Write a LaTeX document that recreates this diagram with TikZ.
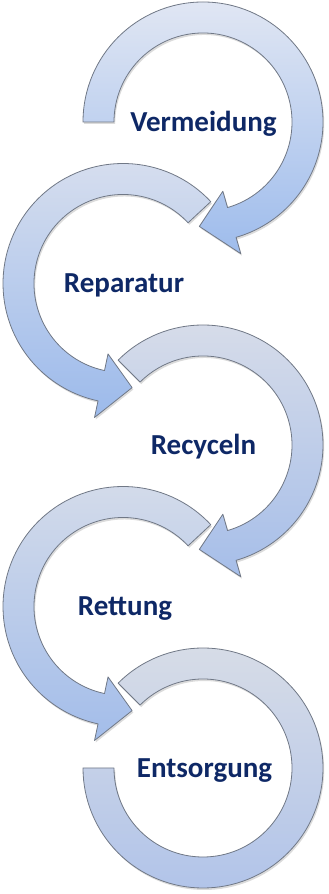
\documentclass[tikz,border=0pt]{standalone}
\usepackage{fontspec}
\setmainfont{Carlito}
\definecolor{txt}{RGB}{14,40,102}
\definecolor{edge}{RGB}{112,120,134}
\definecolor{aAt}{RGB}{224,230,243}
\definecolor{aAb}{RGB}{158,188,236}
\definecolor{aBt}{RGB}{216,223,238}
\definecolor{aBb}{RGB}{156,186,235}
\definecolor{aCt}{RGB}{216,221,233}
\definecolor{aCb}{RGB}{166,190,233}
\definecolor{aDt}{RGB}{213,220,234}
\definecolor{aDb}{RGB}{163,189,234}
\definecolor{aEt}{RGB}{216,221,231}
\definecolor{aEb}{RGB}{176,195,233}
% curved arrow: cx, cy, start angle, base angle, tip angle
\newcommand\curvedarrowpath[5]{([shift={(#1,#2)}]#3:120) arc[start angle=#3,end angle=#4,radius=120] -- ([shift={(#1,#2)}]#4:137) -- ([shift={(#1,#2)}]#5:104.5) -- ([shift={(#1,#2)}]#4:72) -- ([shift={(#1,#2)}]#4:89) arc[start angle=#4,end angle=#3,radius=89] -- cycle}
\newcommand\ringpath[2]{([shift={(#1,#2)}]135:120) arc[start angle=135,end angle=-180,radius=120] -- ([shift={(#1,#2)}]-180:89) arc[start angle=-180,end angle=135,radius=89] -- cycle}
\begin{document}
\begin{tikzpicture}[x=1pt,y=1pt,
  shapeedge/.style={draw=edge, line width=0.8pt, line join=round},
  shadowfill/.style={fill=black, opacity=0.14},
  lbl/.style={font=\bfseries\fontsize{29}{34}\selectfont, text=txt, anchor=base, inner sep=0pt}]
\useasboundingbox (0,0) rectangle (329,894);
% shadows
\begin{scope}[shift={(1.2,-2)}]
\fill[shadowfill] \curvedarrowpath{203}{772}{180}{-74}{-92};
\fill[shadowfill] \curvedarrowpath{123}{610.5}{43}{258}{275};
\fill[shadowfill] \curvedarrowpath{203}{449}{135}{-74}{-92};
\fill[shadowfill] \curvedarrowpath{123}{287.5}{43}{258}{275};
\fill[shadowfill] \ringpath{203}{126};
\end{scope}
% arrows
\path[shapeedge, top color=aAt, bottom color=aAb] \curvedarrowpath{203}{772}{180}{-74}{-92};
\path[shapeedge, top color=aBt, bottom color=aBb] \curvedarrowpath{123}{610.5}{43}{258}{275};
\path[shapeedge, top color=aCt, bottom color=aCb] \curvedarrowpath{203}{449}{135}{-74}{-92};
\path[shapeedge, top color=aDt, bottom color=aDb] \curvedarrowpath{123}{287.5}{43}{258}{275};
\path[shapeedge, top color=aEt, bottom color=aEb] \ringpath{203}{126};
% labels
\node[lbl] (l1) at (203.5,762.8) {Vermeidung};
\node[lbl] (l2) at (124,601.3) {Reparatur};
\node[lbl] (l3) at (203.5,439.8) {Recyceln};
\node[lbl] (l4) at (125,278.3) {Rettung};
\node[lbl] (l5) at (204.5,116.8) {Entsorgung};
\end{tikzpicture}
\end{document}
